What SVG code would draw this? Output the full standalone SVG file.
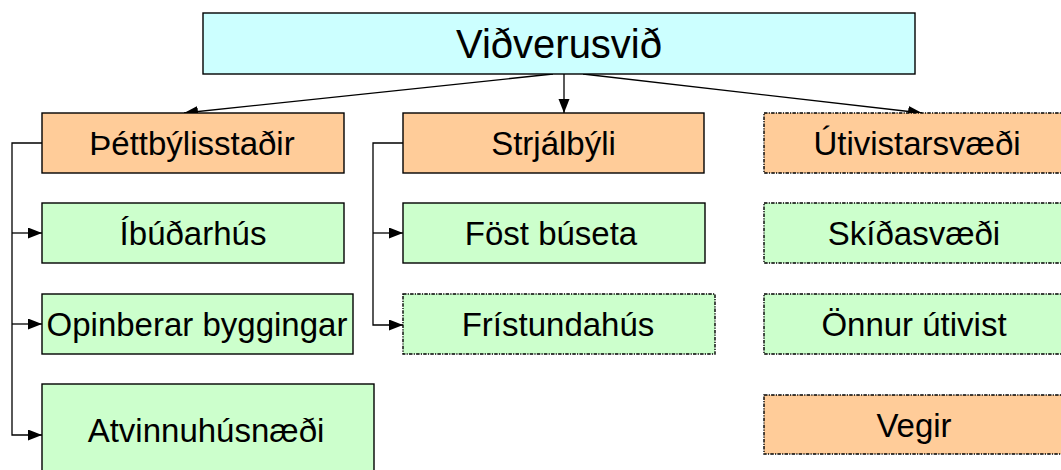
<svg xmlns="http://www.w3.org/2000/svg" width="1061" height="470" viewBox="0 0 1061 470">
<style>
.box{stroke:#000;stroke-width:1.4}
.dash{stroke-dasharray:3.5 1.2 1.2 1.2}
.cyan{fill:#CCFFFF}
.orange{fill:#FFCC99}
.green{fill:#CCFFCC}
text{font-family:"Liberation Sans",Arial,sans-serif;font-size:33px;fill:#000;text-anchor:middle}
.conn{fill:none;stroke:#000;stroke-width:1.3}
</style>
<defs>
<marker id="ah" markerUnits="userSpaceOnUse" markerWidth="15" markerHeight="12" refX="14" refY="5.5" orient="auto">
<path d="M0,0 L14,5.5 L0,11 z" fill="#000"/>
</marker>
</defs>
<rect width="1061" height="470" fill="#fff"/>
<g id="connectors">
<line class="conn" x1="553" y1="74" x2="184" y2="113" marker-end="url(#ah)"/>
<line class="conn" x1="564" y1="74" x2="564" y2="113" marker-end="url(#ah)"/>
<line class="conn" x1="583" y1="74" x2="922" y2="113" marker-end="url(#ah)"/>
<path class="conn" d="M42,143 H12 V435 H42" marker-end="url(#ah)"/>
<line class="conn" x1="12" y1="233" x2="42" y2="233" marker-end="url(#ah)"/>
<line class="conn" x1="12" y1="324" x2="42" y2="324" marker-end="url(#ah)"/>
<path class="conn" d="M403,143 H373 V325 H403" marker-end="url(#ah)"/>
<line class="conn" x1="373" y1="233" x2="403" y2="233" marker-end="url(#ah)"/>
</g>
<g id="root">
<rect class="box cyan" x="203" y="13" width="712" height="61"/>
<text x="559" y="58" style="font-size:40px">Viðverusvið</text>
</g>
<g id="thettbyli">
<rect class="box orange" x="42" y="113" width="302" height="60"/>
<text x="192" y="155">Þéttbýlisstaðir</text>
</g>
<g id="strjalbyli">
<rect class="box orange" x="403" y="113" width="301" height="60"/>
<text x="553.5" y="155">Strjálbýli</text>
</g>
<g id="utivistarsvaedi">
<rect class="box orange dash" x="764" y="113" width="302" height="60"/>
<text x="917" y="155">Útivistarsvæði</text>
</g>
<g id="ibudarhus">
<rect class="box green" x="42" y="203" width="302" height="60"/>
<text x="193" y="245">Íbúðarhús</text>
</g>
<g id="fost-buseta">
<rect class="box green" x="403" y="203" width="302" height="60"/>
<text x="551" y="245">Föst búseta</text>
</g>
<g id="skidasvaedi">
<rect class="box green dash" x="764" y="203" width="302" height="60"/>
<text x="914" y="245">Skíðasvæði</text>
</g>
<g id="opinberar">
<rect class="box green" x="42" y="294" width="311" height="60"/>
<text x="197" y="336">Opinberar byggingar</text>
</g>
<g id="fristundahus">
<rect class="box green dash" x="403" y="294" width="312" height="60"/>
<text x="558" y="336">Frístundahús</text>
</g>
<g id="onnur-utivist">
<rect class="box green dash" x="764" y="294" width="302" height="60"/>
<text x="914" y="336">Önnur útivist</text>
</g>
<g id="atvinnuhusnaedi">
<rect class="box green" x="42" y="384" width="332" height="92"/>
<text x="206" y="442">Atvinnuhúsnæði</text>
</g>
<g id="vegir">
<rect class="box orange dash" x="764" y="395" width="302" height="59"/>
<text x="914" y="436.5">Vegir</text>
</g>
</svg>
